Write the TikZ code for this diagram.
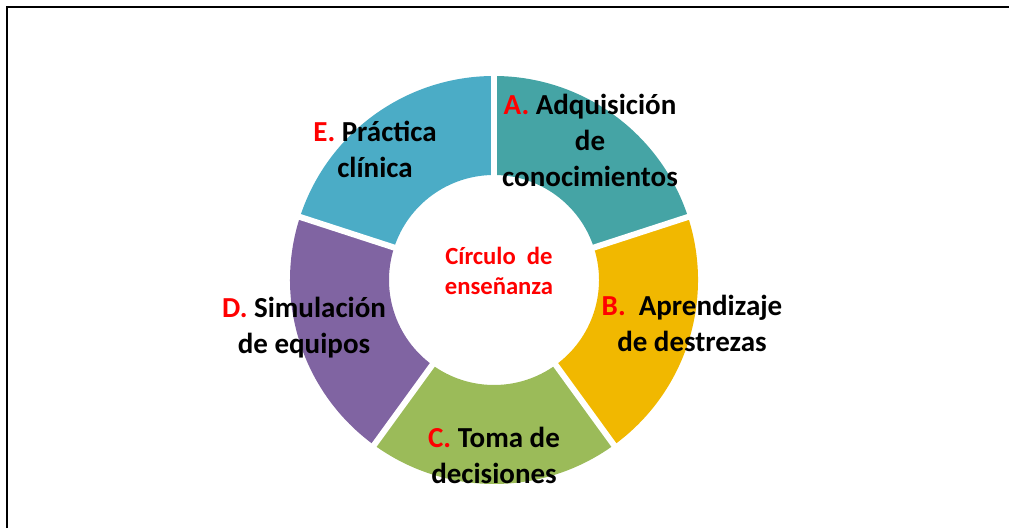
\documentclass[tikz,border=0pt]{standalone}
\usepackage{fontspec}
\setmainfont{Carlito}
\usepackage{tikz}

\definecolor{segA}{RGB}{69,164,165}
\definecolor{segB}{RGB}{241,184,0}
\definecolor{segC}{RGB}{155,187,89}
\definecolor{segD}{RGB}{128,100,162}
\definecolor{segE}{RGB}{75,172,198}

\begin{document}
\begin{tikzpicture}[
    x=0.75pt,y=0.75pt,
    label/.style={align=center,inner sep=0pt,font=\bfseries\fontsize{21.75}{27}\selectfont},
    hub/.style={align=center,inner sep=0pt,text=red,font=\bfseries\fontsize{18.5}{23}\selectfont},
    gap/.style={white,line width=4.5pt}
  ]
    \useasboundingbox (0,0) rectangle (1009,528);

    % Frame (only top and left edges fall inside the page)
    \draw[line width=1.6pt] (7,0) -- (7,521) -- (1009,521);

    % Ring of five sectors, clockwise from the top
    \begin{scope}[shift={(494,248)}]
      \fill[segA] (90:204) arc(90:18:204) -- (18:105) arc(18:90:105) -- cycle;
      \fill[segB] (18:204) arc(18:-54:204) -- (-54:105) arc(-54:18:105) -- cycle;
      \fill[segC] (-54:204) arc(-54:-126:204) -- (-126:105) arc(-126:-54:105) -- cycle;
      \fill[segD] (-126:204) arc(-126:-198:204) -- (-198:105) arc(-198:-126:105) -- cycle;
      \fill[segE] (162:204) arc(162:90:204) -- (90:105) arc(90:162:105) -- cycle;

      % White gaps between the sectors
      \foreach \a in {90,18,-54,-126,162}
        \draw[gap] (\a:100) -- (\a:210);
    \end{scope}

    % Sector labels
    \node[label] (adq) at (590,388)
      {\textcolor{red}{A.} Adquisición\\de\\conocimientos};
    \node[label] (apr) at (692,205)
      {\textcolor{red}{B.}\ \ Aprendizaje\\de destrezas};
    \node[label] (toma) at (494,73)
      {\textcolor{red}{C.} Toma de\\decisiones};
    \node[label] (sim) at (304,200)
      {\textcolor{red}{D.} Simulación\\de equipos};
    \node[label] (prac) at (375,379)
      {\textcolor{red}{E.} Práctica\\clínica};

    % Centre text
    \node[hub] (circ) at (499,257) {Círculo\ \ de\\enseñanza};

  \end{tikzpicture}
\end{document}
